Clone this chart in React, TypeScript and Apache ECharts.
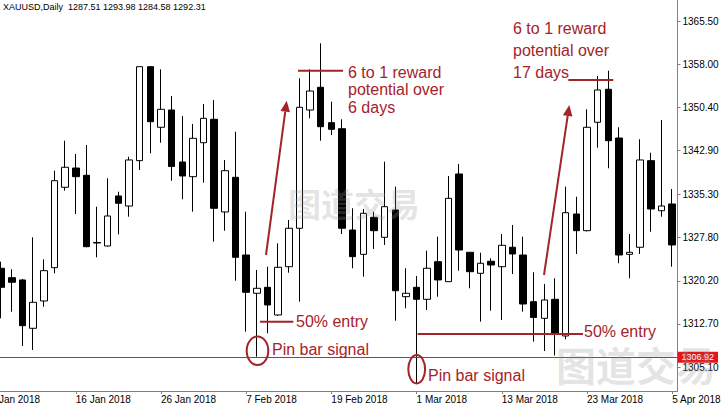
import React, { useEffect, useRef } from "react";
import * as echarts from "echarts";

// Trading days (first entry only carries the clipped left-most axis label)
const dates = [
  "4 Jan 2018", "5 Jan 2018", "8 Jan 2018", "9 Jan 2018", "10 Jan 2018", "11 Jan 2018", "12 Jan 2018", "15 Jan 2018",
  "16 Jan 2018", "17 Jan 2018", "18 Jan 2018", "19 Jan 2018", "22 Jan 2018", "23 Jan 2018", "24 Jan 2018", "25 Jan 2018",
  "26 Jan 2018", "29 Jan 2018", "30 Jan 2018", "31 Jan 2018", "1 Feb 2018", "2 Feb 2018", "5 Feb 2018", "6 Feb 2018",
  "7 Feb 2018", "8 Feb 2018", "9 Feb 2018", "12 Feb 2018", "13 Feb 2018", "14 Feb 2018", "15 Feb 2018", "16 Feb 2018",
  "19 Feb 2018", "20 Feb 2018", "21 Feb 2018", "22 Feb 2018", "23 Feb 2018", "26 Feb 2018", "27 Feb 2018", "28 Feb 2018",
  "1 Mar 2018", "2 Mar 2018", "5 Mar 2018", "6 Mar 2018", "7 Mar 2018", "8 Mar 2018", "9 Mar 2018", "12 Mar 2018",
  "13 Mar 2018", "14 Mar 2018", "15 Mar 2018", "16 Mar 2018", "19 Mar 2018", "20 Mar 2018", "21 Mar 2018", "22 Mar 2018",
  "23 Mar 2018", "26 Mar 2018", "27 Mar 2018", "28 Mar 2018", "29 Mar 2018", "2 Apr 2018", "3 Apr 2018", "4 Apr 2018",
  "5 Apr 2018",
];

const opens = [
  null, 1322.41, 1320.77, 1320.37, 1311.95, 1316.71, 1322.51, 1336.52, 1339.88, 1338.61, 1326.90, 1326.29, 1335.01,
  1333.26, 1341.16, 1357.54, 1346.98, 1349.99, 1340.93, 1338.37, 1344.29, 1348.37, 1332.22, 1338.26, 1324.72,
  1318.05, 1319.09, 1314.27, 1322.68, 1329.38, 1349.99, 1353.95, 1347.78, 1346.73, 1329.08, 1324.84, 1331.29,
  1327.81, 1332.57, 1317.46, 1319.09, 1317.00, 1323.56, 1320.07, 1338.84, 1325.19, 1321.53, 1323.63, 1322.68,
  1326.07, 1324.72, 1316.59, 1313.69, 1317.00, 1310.61, 1331.87, 1328.96, 1347.85, 1353.60, 1345.11, 1324.84,
  1326.07, 1341.16, 1332.44, 1333.61,
];
const closes = [
  null, 1319.09, 1319.97, 1312.40, 1316.48, 1321.99, 1337.67, 1340.01, 1338.37, 1326.17, 1326.81, 1331.52, 1333.73,
  1341.28, 1357.54, 1347.95, 1350.11, 1340.15, 1338.49, 1345.06, 1348.54, 1332.86, 1339.41, 1324.32, 1318.22,
  1318.92, 1316.01, 1322.58, 1329.38, 1350.46, 1353.30, 1347.08, 1346.63, 1329.38, 1324.43, 1331.99, 1328.96,
  1333.14, 1318.50, 1318.05, 1317.00, 1322.41, 1320.37, 1334.60, 1325.59, 1321.81, 1323.28, 1322.98, 1326.41,
  1324.90, 1316.18, 1313.83, 1316.88, 1311.08, 1332.09, 1328.96, 1346.98, 1353.48, 1344.64, 1324.72, 1325.19,
  1341.28, 1332.74, 1333.26, 1326.47,
];
const lows = [
  null, 1313.69, 1314.84, 1308.87, 1308.17, 1315.71, 1321.53, 1335.93, 1331.87, 1326.07, 1324.32, 1326.20, 1328.33,
  1331.40, 1339.54, 1342.45, 1344.29, 1337.65, 1334.43, 1332.27, 1337.32, 1327.04, 1328.96, 1320.24, 1311.36,
  1307.00, 1311.08, 1314.09, 1321.64, 1316.59, 1348.55, 1344.64, 1345.63, 1328.38, 1322.41, 1320.94, 1325.77,
  1326.47, 1313.27, 1315.43, 1302.37, 1315.14, 1317.46, 1320.07, 1321.99, 1318.92, 1313.10, 1315.02, 1313.40,
  1321.41, 1314.84, 1309.62, 1307.99, 1307.21, 1310.03, 1324.90, 1328.82, 1343.42, 1339.83, 1323.28, 1320.66,
  1324.90, 1328.78, 1331.40, 1322.68,
];
const highs = [
  null, 1323.56, 1322.23, 1320.54, 1327.81, 1323.97, 1339.41, 1344.64, 1342.32, 1343.89, 1333.14, 1338.09, 1335.75,
  1341.85, 1357.54, 1357.54, 1357.08, 1352.43, 1348.95, 1347.55, 1351.04, 1351.73, 1341.28, 1346.21, 1332.27,
  1322.11, 1322.68, 1326.76, 1330.82, 1355.52, 1357.08, 1361.61, 1351.44, 1348.37, 1332.86, 1332.74, 1332.27,
  1340.98, 1336.63, 1322.41, 1321.06, 1325.47, 1327.91, 1338.49, 1340.58, 1325.24, 1325.12, 1324.15, 1328.38,
  1329.95, 1327.91, 1321.71, 1319.67, 1320.66, 1336.63, 1334.88, 1350.11, 1355.92, 1356.84, 1346.98, 1328.38,
  1344.89, 1342.55, 1348.25, 1336.22,
];

const priceTicks = [1305.1, 1312.7, 1320.2, 1327.8, 1335.3, 1342.9, 1350.4, 1358.0, 1365.5];
const yMin = 1301.02;
const yMax = 1369.16;
const lastPrice = 1306.92;
const headerText = "XAUUSD,Daily  1287.51 1293.98 1284.58 1292.31";

const RED = "#a4232a";
const OX = 15; // the chart canvas starts 15px left of the page edge

export default function App() {
  const ref = useRef<HTMLDivElement>(null);

  useEffect(() => {
    if (!ref.current) return;
    const chart = echarts.init(ref.current, undefined, { renderer: "svg" });
    const candles = dates.map((_, i) =>
      opens[i] == null ? "-" : [opens[i], closes[i], lows[i], highs[i]]
    );
    const showTick = (i: number) => i % 8 === 0;
    const txt = (text: string, x: number, y: number, size = 16) => ({
      type: "text",
      x: x + OX,
      y,
      z: 20,
      style: {
        text,
        fill: RED,
        fontSize: size,
        fontFamily: "Liberation Sans",
        verticalAlign: "middle",
        textVerticalAlign: "middle",
      },
    });
    const ln = (x1: number, y1: number, x2: number, y2: number, w = 2) => ({
      type: "line",
      z: 20,
      shape: { x1: x1 + OX, y1, x2: x2 + OX, y2 },
      style: { stroke: RED, lineWidth: w },
    });
    const arrow = (sx: number, sy: number, tx: number, ty: number) => {
      const dx = tx - sx, dy = ty - sy;
      const len = Math.sqrt(dx * dx + dy * dy);
      const ux = dx / len, uy = dy / len;
      const bx = tx - 11 * ux, by = ty - 11 * uy;
      const nx = -uy, ny = ux;
      return [
        ln(sx, sy, bx, by, 2),
        {
          type: "polygon",
          z: 20,
          shape: {
            points: [
              [tx + OX, ty],
              [bx + 4.8 * nx + OX, by + 4.8 * ny],
              [bx - 4.8 * nx + OX, by - 4.8 * ny],
            ],
          },
          style: { fill: RED },
        },
      ];
    };
    const ell = (cx: number, cy: number, rx: number, ry: number) => ({
      type: "ellipse",
      z: 20,
      shape: { cx: cx + OX, cy, rx, ry },
      style: { fill: "none", stroke: RED, lineWidth: 2 },
    });
    const wm = (x: number, y: number, size: number) => ({
      type: "text",
      x: x + OX,
      y,
      z: 30,
      style: {
        text: "图道交易",
        fill: "rgba(150,150,150,0.26)",
        fontSize: size,
        fontWeight: "bold",
        fontFamily: "Noto Sans CJK SC",
        align: "center",
        verticalAlign: "middle",
        textAlign: "center",
        textVerticalAlign: "middle",
      },
    });

    chart.setOption({
      animation: false,
      backgroundColor: "#ffffff",
      grid: { left: 0.225, right: 48.5, top: 0, bottom: 17 },
      xAxis: {
        type: "category",
        data: dates,
        boundaryGap: true,
        axisLine: { show: true, lineStyle: { color: "#808080", width: 1 } },
        axisTick: {
          show: true,
          alignWithLabel: true,
          interval: (i: number) => showTick(i),
          length: 3,
          lineStyle: { color: "#808080" },
        },
        axisLabel: {
          interval: (i: number) => showTick(i),
          align: "left",
          margin: 3,
          fontSize: 10,
          fontFamily: "Liberation Sans",
          color: "#000",
        },
        splitLine: { show: false },
      },
      yAxis: {
        type: "value",
        position: "right",
        min: yMin,
        max: yMax,
        scale: true,
        axisLine: { show: true, lineStyle: { color: "#808080", width: 1 } },
        axisTick: { show: true, length: 3, customValues: priceTicks, lineStyle: { color: "#808080" } },
        axisLabel: {
          customValues: priceTicks,
          formatter: (v: number) => v.toFixed(2),
          margin: 5,
          fontSize: 10,
          fontFamily: "Liberation Sans",
          color: "#000",
        },
        splitLine: { show: false },
      },
      series: [
        {
          type: "candlestick",
          data: candles,
          barWidth: 7,
          itemStyle: {
            color: "#ffffff",
            color0: "#000000",
            borderColor: "#000000",
            borderColor0: "#000000",
            borderWidth: 1,
          },
          markLine: {
            silent: true,
            symbol: "none",
            animation: false,
            data: [{ yAxis: lastPrice }],
            lineStyle: { color: "#c62a2f", width: 1, type: "solid" },
            label: {
              position: "end",
              formatter: lastPrice.toFixed(2),
              color: "#ffffff",
              backgroundColor: "#e3161b",
              fontSize: 9,
              fontFamily: "Liberation Sans",
              padding: [1, 4],
              distance: 0,
            },
          },
        },
      ],
      graphic: [
        {
          type: "text",
          x: 3 + OX,
          y: 7,
          style: {
            text: headerText,
            fill: "#000",
            fontSize: 9,
            fontFamily: "Liberation Sans",
            verticalAlign: "middle",
            textVerticalAlign: "middle",
          },
        },
        wm(354, 203, 33),
        wm(636, 364, 40),
        // first trade annotation
        ln(298, 70.7, 343, 70.7),
        txt("6 to 1 reward", 348, 72),
        txt("potential over", 348, 89.5),
        txt("6 days", 348, 107.5),
        ...arrow(266, 255, 286.7, 100.7),
        ln(260, 321.7, 293.3, 321.7),
        txt("50% entry", 296, 321.5),
        ell(257.5, 350.8, 10.8, 14.2),
        txt("Pin bar signal", 272, 349),
        // second trade annotation
        txt("6 to 1 reward", 513, 28.5),
        txt("potential over", 513, 50.5),
        txt("17 days", 513, 72.5),
        ln(568.3, 80, 613.3, 80),
        ...arrow(544, 275, 569.3, 105),
        ln(417.7, 334, 583, 334),
        txt("50% entry", 584, 331.5),
        ell(416.7, 369.2, 8.4, 14.2),
        txt("Pin bar signal", 428, 375.5),
      ],
    });
    return () => chart.dispose();
  }, []);

  return (
    <div
      ref={ref}
      style={{ position: "fixed", left: -OX, top: 0, width: 726 + OX, height: 408, background: "#fff" }}
    />
  );
}
